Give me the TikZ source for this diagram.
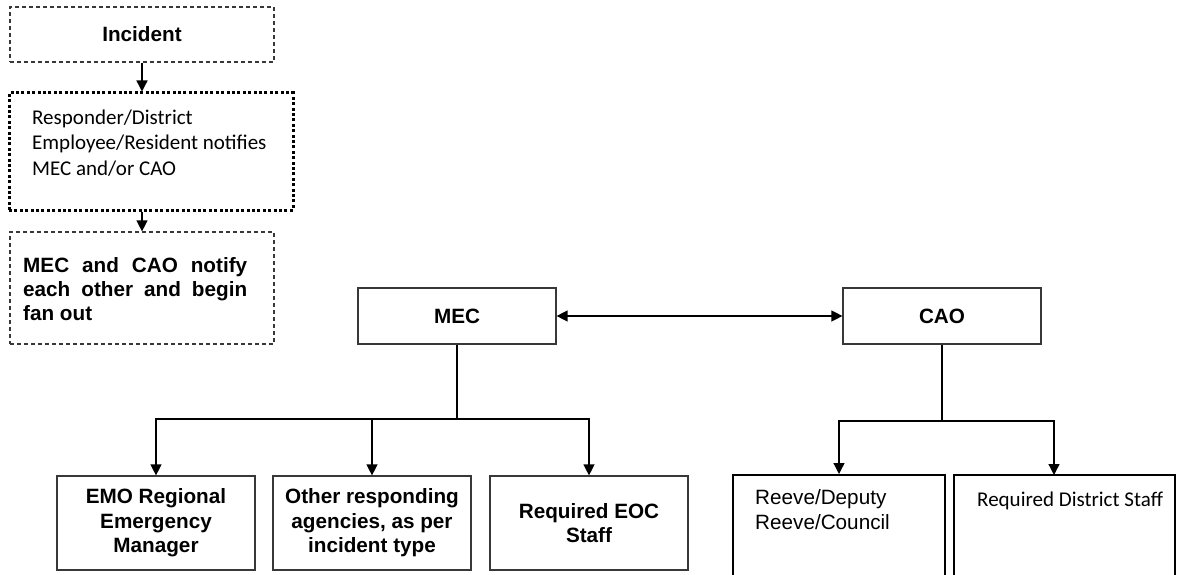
\documentclass[tikz,border=0pt]{standalone}
\usepackage{fontspec}
\setmainfont{Liberation Sans}
\newfontfamily\calibri{Carlito}
\usetikzlibrary{arrows.meta}
\begin{document}
\begin{tikzpicture}[x=1pt,y=-1pt,
  box/.style={draw=black!78, line width=1.2pt, inner sep=0pt},
  dashbox/.style={box, dash pattern=on 4pt off 3pt},
  dotbox/.style={draw=black, line width=3pt, dash pattern=on 3pt off 2.4pt, inner sep=0pt},
  heavybox/.style={draw=black, line width=2pt, inner sep=0pt},
  bold/.style={font=\fontsize{20.7}{24.5}\selectfont\bfseries, align=center},
  plain/.style={font=\fontsize{20.7}{25}\selectfont, align=left, inner sep=0pt},
  cal/.style={font=\calibri\fontsize{21}{25.5}\selectfont, align=left, inner sep=0pt},
  link/.style={draw=black, line width=1.3pt},
  tip/.tip={Triangle[length=11pt,width=11pt]},
  arr/.style={link, -tip},
]
\useasboundingbox (0,0) rectangle (1177,575);
\clip (0,0) rectangle (1177,575);

% --- notification chain (left column)
\node[dashbox, bold, minimum width=264pt, minimum height=55pt] (incident) at (142,34.5) {Incident};
\node[dotbox, minimum width=284pt, minimum height=117pt] (resp) at (151,151.5) {};
% multi-line nodes: base anchor sits on the last line
\node[cal, anchor=base west] (resptext) at (32,175)
  {Responder/District\\Employee/Resident notifies\\MEC and/or CAO};
\node[dashbox, minimum width=264pt, minimum height=112pt] (notify) at (142,288) {};
\node[anchor=base west, inner sep=0pt, text width=224pt, align=justify,
      font=\fontsize{20.7}{24}\selectfont\bfseries] (notifytext) at (23,272)
  {\hyphenpenalty=10000 MEC and CAO notify each other and begin fan out};

\draw[arr] (incident.south) -- (incident.south |- resp.north);
\draw[arr] (notify.north |- resp.south) -- (notify.north);

% --- coordinators
\node[box, bold, minimum width=198pt, minimum height=56pt] (mec) at (457,316) {MEC};
\node[box, bold, minimum width=198pt, minimum height=56pt] (cao) at (942,316) {CAO};
\draw[link, tip-tip] (mec.east) -- (cao.west);

% --- MEC fan out
\node[box, bold, minimum width=198pt, minimum height=94pt] (emo) at (156,523)
  {EMO Regional\\Emergency\\Manager};
\node[box, bold, minimum width=198pt, minimum height=94pt] (other) at (372,523)
  {Other responding\\agencies, as per\\incident type};
\node[box, bold, minimum width=198pt, minimum height=94pt] (eoc) at (589,523)
  {Required EOC\\Staff};
\coordinate (mfork) at (457,419);
\draw[link] (mec.south) -- (mfork);
\draw[arr] (mfork) -| (emo.north);
\draw[arr] (mfork) -| (other.north);
\draw[arr] (mfork) -| (eoc.north);

% --- CAO fan out
\node[heavybox, minimum width=212pt, minimum height=130pt] (reeve) at (839,540) {};
\node[plain, anchor=base west] (reevetext) at (755,529) {Reeve/Deputy\\Reeve/Council};
\node[heavybox, minimum width=221pt, minimum height=130pt] (district) at (1064.5,540) {};
\node[cal, anchor=base west] (districttext) at (977,506) {Required District Staff};
\coordinate (cfork) at (942,421);
\coordinate (districttop) at (1054,475);
\draw[link] (cao.south) -- (cfork);
\draw[arr] (cfork) -| (reeve.north);
\draw[arr] (cfork) -| (districttop);
\end{tikzpicture}
\end{document}
